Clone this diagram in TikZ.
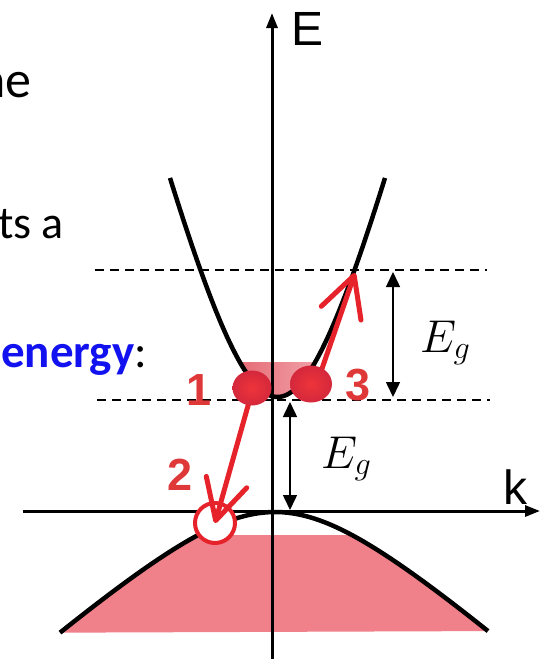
\RequirePackage{fix-cm}
\documentclass[tikz,border=0pt]{standalone}
\usepackage{fontspec}
\setmainfont{Carlito}
\newfontfamily\arialfont{Liberation Sans}
\usepackage{xcolor}
\usetikzlibrary{positioning,arrows.meta,shapes.geometric}

\definecolor{bandpink}{RGB}{240,128,138}
\definecolor{cbpinkl}{RGB}{230,108,118}
\definecolor{cbpinkr}{RGB}{240,160,168}
\definecolor{jumpred}{RGB}{230,34,42}
\definecolor{numred}{RGB}{222,56,56}
\definecolor{dotred}{RGB}{238,52,58}
\definecolor{dotdark}{RGB}{212,40,60}
\definecolor{textblue}{RGB}{18,18,240}

\begin{document}
\begin{tikzpicture}[
    x=1pt, y=-1pt, % one unit = one pixel of the reference, y downwards
    axisline/.style={line width=3pt, -{Triangle[length=15pt,width=11pt]}},
    bandline/.style={line width=4.5pt},
    cutline/.style={line width=1.5pt, dash pattern=on 9pt off 6pt},
    gaparrow/.style={line width=1.5pt,
        {Triangle[length=15pt,width=14pt]}-{Triangle[length=15pt,width=14pt]}},
    jump/.style={draw=jumpred, line width=5pt, line cap=round,
        -{Straight Barb[length=40pt,width=42pt,round]}},
    electron/.style={ellipse, inner sep=0pt, inner color=dotred, outer color=dotdark},
    holering/.style={circle, draw=jumpred, fill=white, line width=4pt,
        minimum size=40pt, inner sep=0pt},
    stepnum/.style={text=numred, inner sep=0pt,
        font=\arialfont\bfseries\fontsize{45}{45}\selectfont},
    axislabel/.style={inner sep=0pt, font=\arialfont\fontsize{48}{48}\selectfont},
    gaplabel/.style={inner sep=0pt, font=\fontsize{46}{46}\selectfont}
]
\useasboundingbox (0,0) rectangle (549,659);
\clip (0,0) rectangle (549,659);

% --- Texto cortado a esquerda ---
\node (t1) [inner sep=0pt, anchor=base east, font=\fontsize{52}{52}\selectfont] at (32,97) {ne};
\node (t2) [inner sep=0pt, anchor=base west, font=\fontsize{46}{46}\selectfont] at (-2,238) {ts a};
\node (t3) [inner sep=0pt, anchor=base west, font=\fontsize{47}{47}\selectfont] at (1,367)
    {\textcolor{textblue}{\bfseries energy}:};

% --- Regioes preenchidas ---
\fill[left color=cbpinkl, right color=cbpinkr] (239.8,362)
    -- plot[domain=239.8:315.2, samples=40] (\x, {397-293*(sqrt(1+((\x-277.5)/75)^2)-1)})
    -- cycle;
\begin{scope}
    \clip (0,535) rectangle (549,632);
    \fill[bandpink] plot[domain=60:488, samples=80] (\x, {512+88*(sqrt(1+((\x-275)/100)^2)-1)}) -- cycle;
\end{scope}

% --- Eixos ---
\coordinate (Ebot) at (272,659);
\coordinate (Etop) at (272,13);
\coordinate (kleft) at (23,511);
\coordinate (kright) at (540,511);
\draw[axisline] (Ebot) -- (Etop);
\draw[axisline] (kleft) -- (kright);
\node (E) [axislabel, anchor=base west] at (291,45) {E};
\node (k) [axislabel, anchor=base west] at (503,504) {k};

% --- Niveis tracejados ---
\draw[cutline] (95,270) -- (487,270);
\draw[cutline] (97,400) -- (490,400);

% --- Bandas ---
\draw[bandline] plot[domain=170:385, samples=80] (\x, {397-293*(sqrt(1+((\x-277.5)/75)^2)-1)});
\draw[bandline] plot[domain=60:488, samples=80] (\x, {512+88*(sqrt(1+((\x-275)/100)^2)-1)});

% --- Setas de gap ---
\coordinate (g1top) at (393,272);
\coordinate (g1bot) at (393,397);
\coordinate (g2top) at (290,402);
\coordinate (g2bot) at (290,510);
\draw[gaparrow] (g1top) -- (g1bot);
\draw[gaparrow] (g2top) -- (g2bot);
\node (Eg1) [gaplabel, anchor=base west] at (420,352) {$E_g$};
\node (Eg2) [gaplabel, anchor=base west] at (321,468) {$E_g$};

% --- Buraco, saltos e eletrons ---
\node (h2) [holering] at (215,523) {};
\coordinate (s1) at (253,388);
\coordinate (s3) at (316,386);
\coordinate (c3) at (355,273);
\draw[jump] (s1) -- (h2.center);
\draw[jump] (s3) -- (c3);
\node (e1) [electron, minimum width=39pt, minimum height=35pt] at (252,388) {};
\node (e3) [electron, minimum width=42pt, minimum height=37pt] at (311,384) {};

\node (n1) [stepnum, anchor=base] at (199,405) {1};
\node (n2) [stepnum, anchor=base] at (180,490) {2};
\node (n3) [stepnum, anchor=base] at (358,400) {3};

\end{tikzpicture}
\end{document}
